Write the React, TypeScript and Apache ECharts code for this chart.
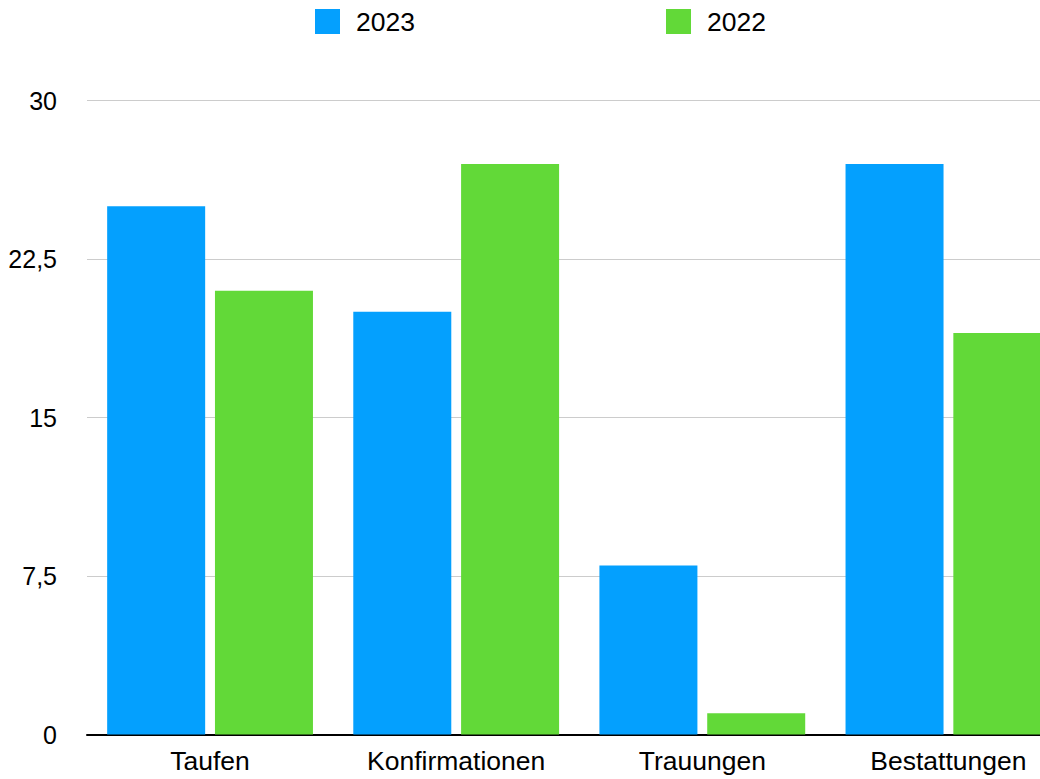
import React, { useEffect, useRef } from "react";
import * as echarts from "echarts";

const categories = ["Taufen", "Konfirmationen", "Trauungen", "Bestattungen"];
const values2023 = [25, 20, 8, 27];
const values2022 = [21, 27, 1, 19];
const seriesNames = ["2023", "2022"];
const colors = ["#04a0fe", "#62d938"];

const FONT = '"Helvetica Neue", Helvetica, Arial, "Liberation Sans", sans-serif';

export default function App() {
  const ref = useRef<HTMLDivElement>(null);
  useEffect(() => {
    if (!ref.current) return;
    const chart = echarts.init(ref.current, undefined, { renderer: "svg" });
    const legendText = { fontSize: 26.5, color: "#000", fontFamily: FONT, padding: [0, 0, 0, 11] };
    chart.setOption({
      animation: false,
      backgroundColor: "#ffffff",
      textStyle: { fontFamily: FONT },
      legend: [
        {
          data: [seriesNames[0]],
          left: 315,
          top: 8,
          padding: 0,
          itemWidth: 25,
          itemHeight: 25,
          icon: "rect",
          textStyle: legendText,
        },
        {
          data: [seriesNames[1]],
          left: 666,
          top: 8,
          padding: 0,
          itemWidth: 25,
          itemHeight: 25,
          icon: "rect",
          textStyle: legendText,
        },
      ],
      grid: { left: 87, right: 28.5, top: 100.5, bottom: 44.5, containLabel: false },
      xAxis: {
        type: "category",
        data: categories,
        axisLine: { show: true, lineStyle: { color: "#000", width: 2 } },
        axisTick: { show: false },
        axisLabel: { fontSize: 26.5, color: "#000", margin: 13, fontFamily: FONT },
        splitLine: { show: false },
      },
      yAxis: {
        type: "value",
        min: 0,
        max: 30,
        interval: 7.5,
        axisLine: { show: false },
        axisTick: { show: false },
        axisLabel: {
          fontSize: 25,
          color: "#000",
          margin: 30,
          fontFamily: FONT,
          formatter: (v: number) => String(v).replace(".", ","),
        },
        splitLine: { show: true, lineStyle: { color: "#cccccc", width: 1 } },
      },
      series: [
        {
          name: seriesNames[0],
          type: "bar",
          data: values2023,
          barWidth: 98,
          barGap: "10%",
          itemStyle: { color: colors[0] },
        },
        {
          name: seriesNames[1],
          type: "bar",
          data: values2022,
          barWidth: 98,
          barGap: "10%",
          itemStyle: { color: colors[1] },
        },
      ],
    });
    return () => chart.dispose();
  }, []);
  return (
    <div
      style={{
        position: "fixed",
        left: 0,
        top: 0,
        width: 1040,
        height: 779,
        overflow: "hidden",
        background: "#fff",
      }}
    >
      <div ref={ref} style={{ width: 1100, height: 779 }} />
    </div>
  );
}
